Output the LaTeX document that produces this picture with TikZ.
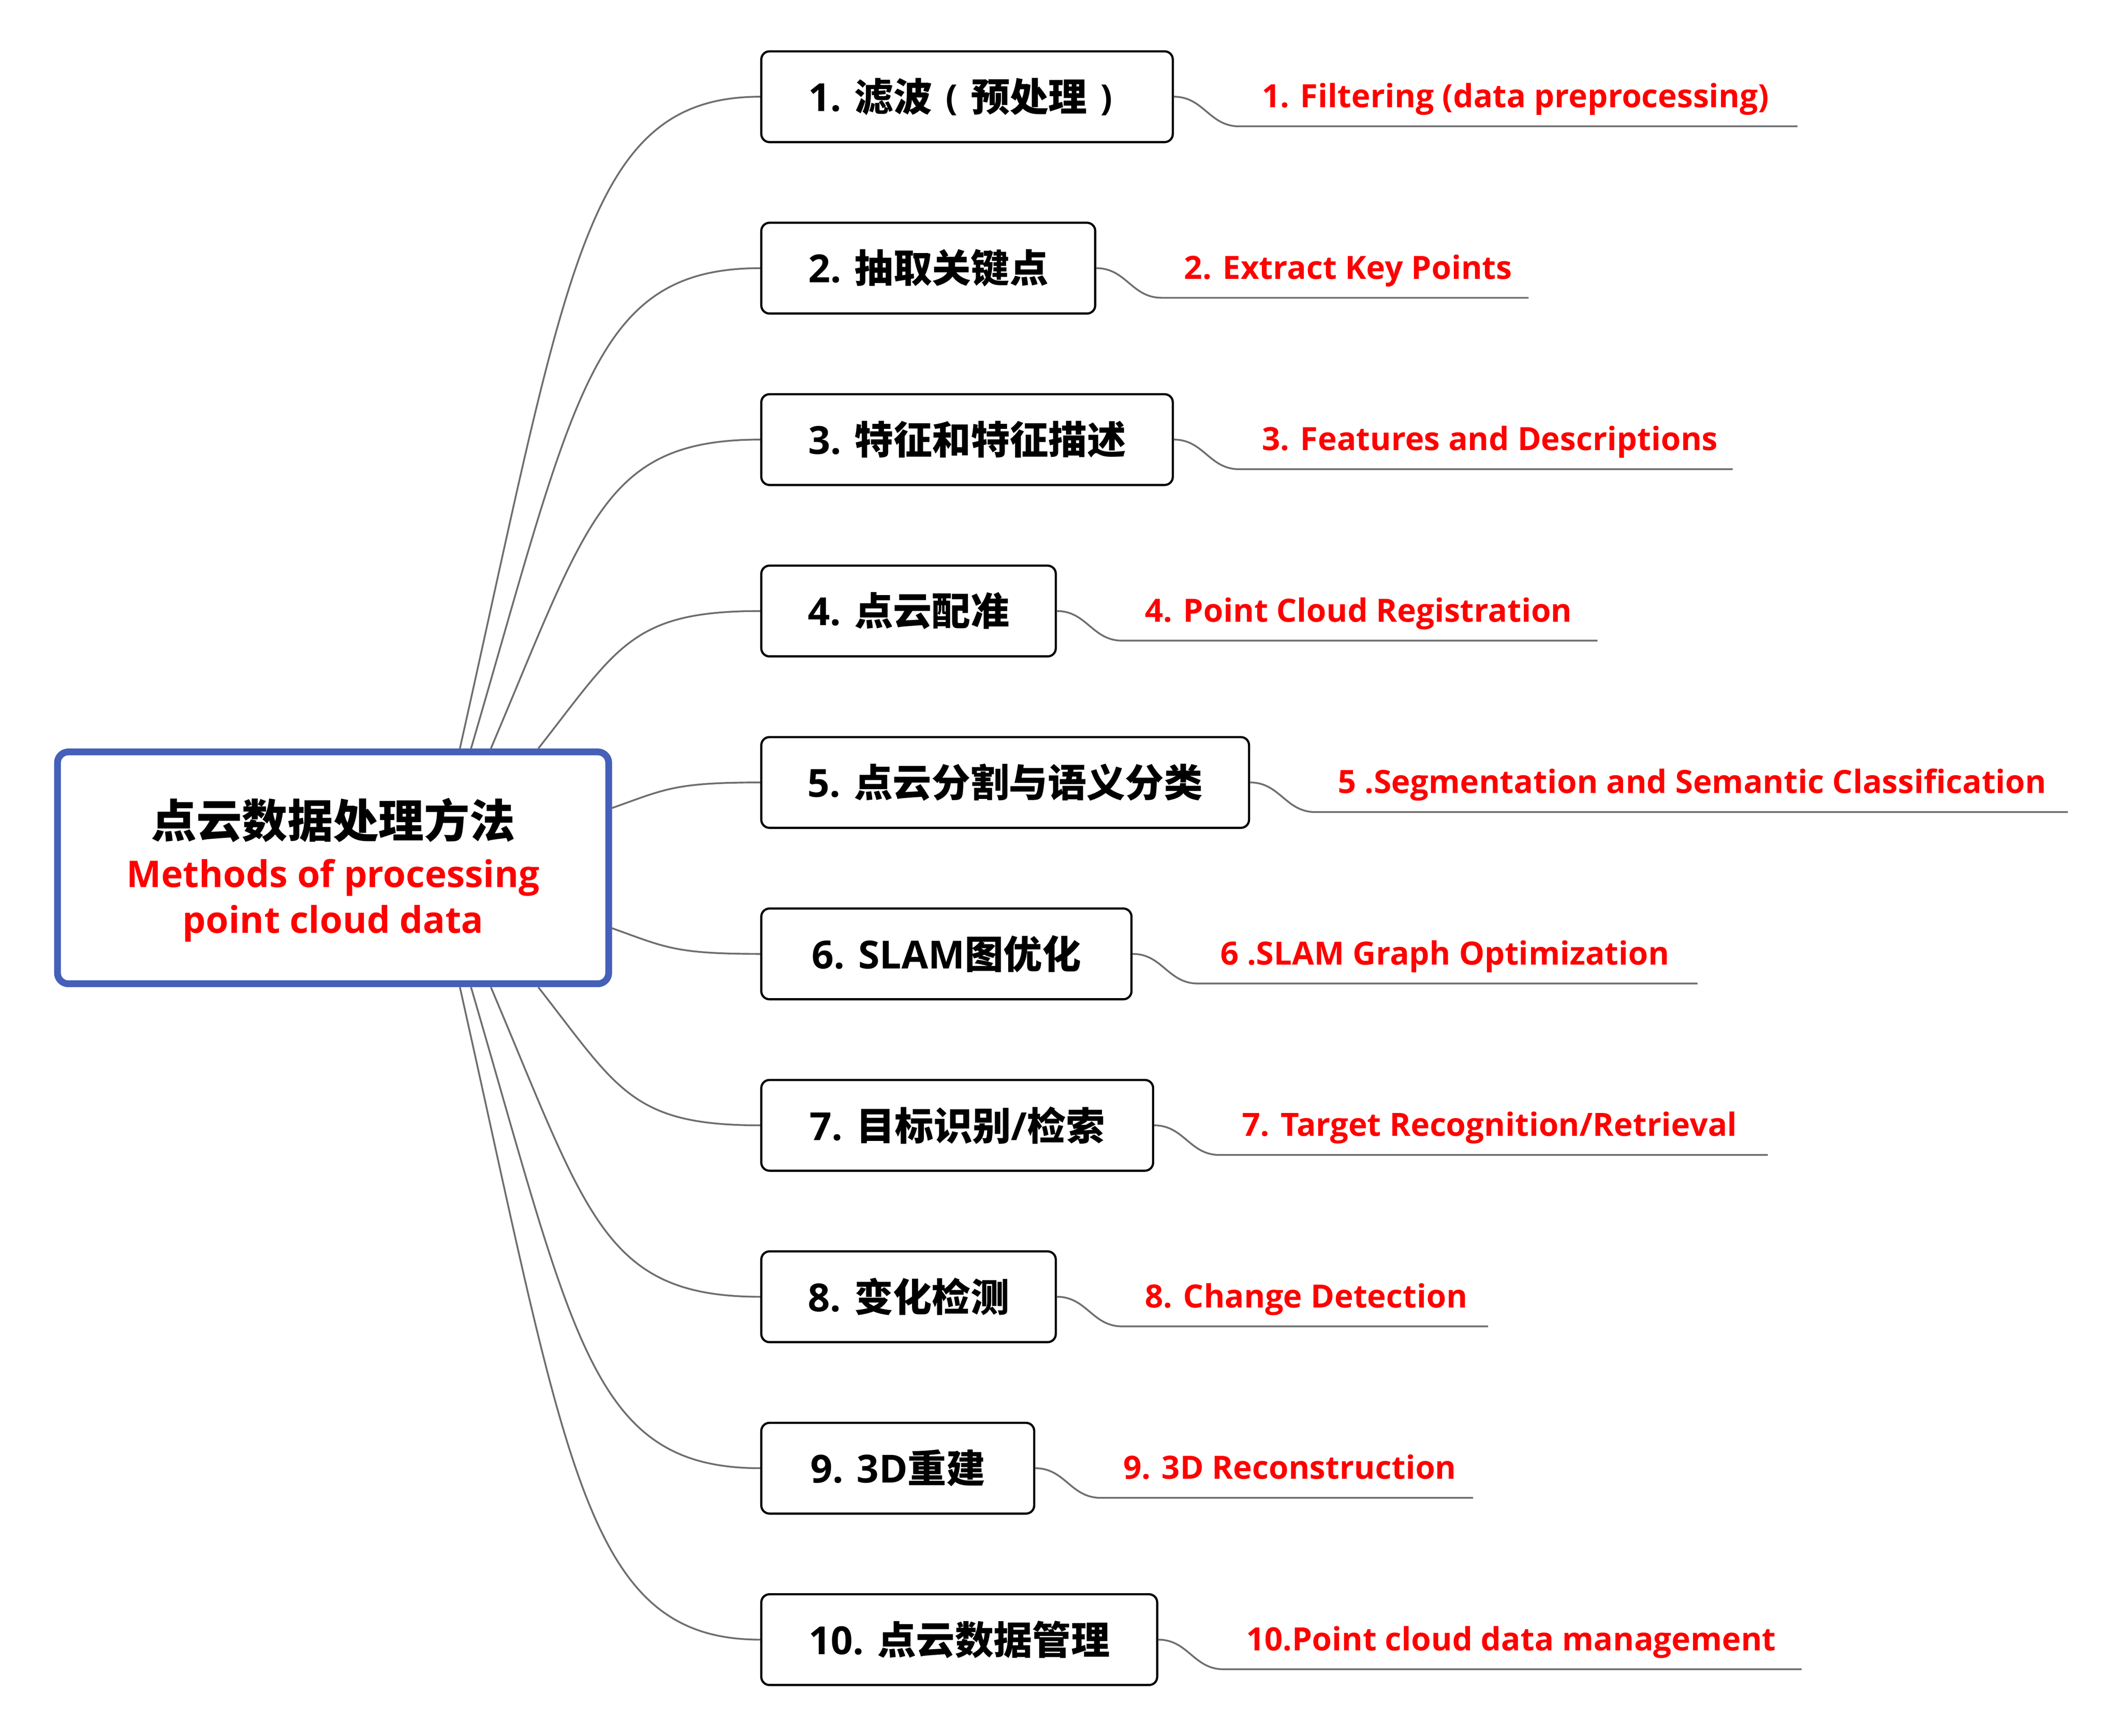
\documentclass[tikz,border=0pt]{standalone}
\usepackage{fontspec}
\setmainfont{Open Sans}
\newfontfamily\cjk{Noto Sans CJK SC}
\definecolor{cblue}{HTML}{4560B8}
\definecolor{lgray}{HTML}{6E6E6E}
\definecolor{cred}{HTML}{FF0000}
\newcommand{\fwparen}[1]{\makebox[1em][c]{\raisebox{1pt}{\fontsize{26}{30}\selectfont\bfseries #1}}}
\tikzset{
  stepbox/.style={draw=black, line width=1.6pt, rounded corners=6pt, fill=white,
    minimum height=66.8pt, inner sep=0pt,
    font=\fontsize{28.5}{34}\selectfont\bfseries},
  centralbox/.style={draw=cblue, line width=5pt, rounded corners=8pt, fill=white,
    minimum width=405.6pt, minimum height=170.7pt, inner sep=0pt},
  conn/.style={draw=lgray, line width=1.3pt},
  labeltext/.style={anchor=base west, inner sep=0pt, text=cred,
    font=\fontsize{23.6}{28}\selectfont\bfseries},
  titletext/.style={anchor=base, inner sep=0pt,
    font=\fontsize{33.5}{38}\selectfont\bfseries},
  subtext/.style={anchor=base, inner sep=0pt, text=cred,
    font=\fontsize{27.1}{32}\selectfont\bfseries},
}
\newcommand{\mybranch}[6]{%
  \pgfmathsetmacro\bw{#3-559.4-1.6}%
  \pgfmathsetmacro\bx{(#3+559.4)/2}%
  \node[stepbox, minimum width=\bw pt] (b#1) at (\bx,#2) {#4};
  \pgfmathsetmacro\ux{#3+48}%
  \pgfmathsetmacro\uy{#2+21.8}%
  \coordinate (u#1) at (\ux,\uy);
  \coordinate (e#1) at (#6,\uy);
  \draw[conn] (b#1.east) .. controls +(22,0) and +(-22,0) .. (u#1) -- (e#1);
  \pgfmathsetmacro\lx{#3+64.5}%
  \pgfmathsetmacro\ly{#2+8}%
  \node[labeltext] (l#1) at (\lx,\ly) {#5};
}
\begin{document}
\begin{tikzpicture}[x=1pt,y=-1pt]
\useasboundingbox (0,0) rectangle (1560,1277.7);
% central node
\node[centralbox] (central) at (245.1,638.85) {};
\node[titletext] (t0) at (245.1,616.8) {\cjk 点云数据处理方法};
\node[subtext] (t1) at (245.1,653.1) {Methods of processing};
\node[subtext] (t2) at (245.1,686.9) {point cloud data};
% branches
\mybranch{1}{71.2}{863.8}{1. {\cjk 滤波}\fwparen{(}{\cjk 预处理}\fwparen{)}}{1. Filtering (data preprocessing)}{1322.7}
\mybranch{2}{197.4}{806.7}{2. {\cjk 抽取关键点}}{2. Extract Key Points}{1124.8}
\mybranch{3}{323.6}{863.8}{3. {\cjk 特征和特征描述}}{3. Features and Descriptions}{1275}
\mybranch{4}{449.8}{777.7}{4. {\cjk 点云配准}}{4. Point Cloud Registration}{1175.5}
\mybranch{5}{576.0}{919.9}{5. {\cjk 点云分割与语义分类}}{5 .Segmentation and Semantic Classification}{1521.6}
\mybranch{6}{702.2}{833.4}{6. SLAM{\cjk 图优化}}{6 .SLAM Graph Optimization}{1249.1}
\mybranch{7}{828.4}{849.3}{7. {\cjk 目标识别}/{\cjk 检索}}{7. Target Recognition/Retrieval}{1300.8}
\mybranch{8}{954.6}{777.7}{8. {\cjk 变化检测}}{8. Change Detection}{1095}
\mybranch{9}{1080.8}{761.8}{9. 3D{\cjk 重建}}{9. 3D Reconstruction}{1084}
\mybranch{10}{1207.0}{852.3}{10. {\cjk 点云数据管理}}{10.Point cloud data management}{1325.7}
% start points on the central node
\coordinate (s1) at (338.4,551);
\coordinate (s2) at (346.6,551);
\coordinate (s3) at (361.2,551);
\coordinate (s4) at (396.1,551);
\coordinate (s5) at (450.4,594.8);
\coordinate (s6) at (450.4,683.3);
\coordinate (s7) at (396.1,726.7);
\coordinate (s8) at (361.2,726.7);
\coordinate (s9) at (346.6,726.7);
\coordinate (s10) at (338.4,726.7);
\draw[conn] (s1) .. controls (418.0,195.9) and (431.2,71.2) .. (b1.west);
\draw[conn] (s2) .. controls (423.2,289.3) and (436.0,197.4) .. (b2.west);
\draw[conn] (s3) .. controls (432.6,382.7) and (444.4,323.6) .. (b3.west);
\draw[conn] (s4) .. controls (454.9,476.1) and (464.7,449.8) .. (b4.west);
\draw[conn] (s5) .. controls (489.6,580.9) and (496.2,576.0) .. (b5.west);
\draw[conn] (s6) .. controls (489.6,697.3) and (496.2,702.2) .. (b6.west);
\draw[conn] (s7) .. controls (454.9,801.9) and (464.7,828.4) .. (b7.west);
\draw[conn] (s8) .. controls (432.6,895.3) and (444.4,954.6) .. (b8.west);
\draw[conn] (s9) .. controls (423.2,988.7) and (436.0,1080.8) .. (b9.west);
\draw[conn] (s10) .. controls (418.0,1082.1) and (431.2,1207.0) .. (b10.west);
\end{tikzpicture}
\end{document}
